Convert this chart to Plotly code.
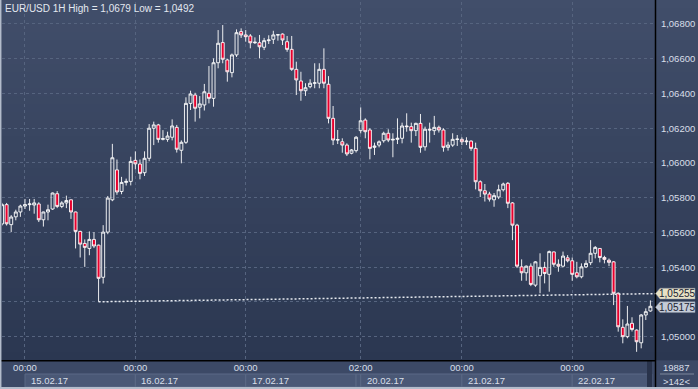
import plotly.graph_objects as go

# ---------------- data ----------------
opens = [1.05649,1.05760,1.05645,1.05690,1.05718,1.05752,1.05760,1.05758,1.05764,1.05673,
         1.05718,1.05735,1.05823,1.05750,1.05770,1.05788,1.05718,1.05606,1.05537,1.05508,
         1.05560,1.05527,1.05342,1.05602,1.05788,1.05960,1.05836,1.05888,1.05894,1.06015,
         1.05994,1.05944,1.06027,1.06200,1.06219,1.06136,1.06136,1.06148,1.06205,1.06073,
         1.06119,1.06343,1.06391,1.06321,1.06334,1.06401,1.06372,1.06577,1.06693,1.06593,
         1.06520,1.06622,1.06756,1.06737,1.06731,1.06692,1.06692,1.06666,1.06704,1.06712,
         1.06737,1.06742,1.06698,1.06654,1.06539,1.06472,1.06416,1.06439,1.06459,1.06459,
         1.06539,1.06453,1.06257,1.06132,1.06122,1.06103,1.06056,1.06071,1.06186,1.06247,
         1.06190,1.06090,1.06103,1.06128,1.06171,1.06132,1.06136,1.06142,1.06213,1.06209,
         1.06186,1.06228,1.06093,1.06194,1.06186,1.06205,1.06190,1.06090,1.06103,1.06136,
         1.06136,1.06122,1.06126,1.06084,1.05892,1.05840,1.05821,1.05788,1.05804,1.05846,
         1.05883,1.05770,1.05642,1.05402,1.05368,1.05406,1.05297,1.05351,1.05399,1.05359,
         1.05488,1.05417,1.05406,1.05454,1.05437,1.05368,1.05345,1.05402,1.05426,1.05480,
         1.05508,1.05456,1.05440,1.05431,1.05250,1.05054,1.05000,1.05077,1.05038,1.04965,
         1.05125,1.05148]
highs = [1.05770,1.05770,1.05700,1.05731,1.05760,1.05793,1.05793,1.05793,1.05774,1.05720,
         1.05760,1.05830,1.05838,1.05780,1.05812,1.05790,1.05720,1.05610,1.05560,1.05606,
         1.05602,1.05530,1.05642,1.05810,1.06110,1.06020,1.05920,1.05910,1.06036,1.06067,
         1.06020,1.06067,1.06224,1.06238,1.06225,1.06189,1.06180,1.06251,1.06219,1.06130,
         1.06378,1.06416,1.06404,1.06385,1.06455,1.06558,1.06602,1.06765,1.06794,1.06600,
         1.06630,1.06769,1.06775,1.06765,1.06742,1.06723,1.06737,1.06720,1.06735,1.06761,
         1.06740,1.06746,1.06731,1.06731,1.06583,1.06525,1.06459,1.06482,1.06574,1.06574,
         1.06660,1.06500,1.06328,1.06190,1.06142,1.06113,1.06080,1.06155,1.06320,1.06257,
         1.06200,1.06117,1.06130,1.06180,1.06194,1.06171,1.06257,1.06232,1.06286,1.06232,
         1.06232,1.06282,1.06209,1.06232,1.06271,1.06215,1.06200,1.06122,1.06171,1.06161,
         1.06148,1.06148,1.06130,1.06117,1.05900,1.05879,1.05834,1.05827,1.05875,1.05887,
         1.05890,1.05775,1.05650,1.05445,1.05410,1.05422,1.05435,1.05480,1.05431,1.05496,
         1.05490,1.05445,1.05490,1.05470,1.05456,1.05431,1.05422,1.05440,1.05556,1.05522,
         1.05510,1.05466,1.05450,1.05435,1.05255,1.05100,1.05177,1.05112,1.05042,1.05130,
         1.05163,1.05209]
lows = [1.05640,1.05640,1.05602,1.05670,1.05690,1.05735,1.05725,1.05708,1.05660,1.05634,
        1.05670,1.05730,1.05740,1.05740,1.05740,1.05678,1.05508,1.05456,1.05402,1.05469,
        1.05510,1.05201,1.05306,1.05590,1.05780,1.05817,1.05820,1.05870,1.05871,1.05963,
        1.05906,1.05925,1.06010,1.06103,1.06117,1.06130,1.06122,1.06130,1.06060,1.05998,
        1.06110,1.06305,1.06238,1.06257,1.06302,1.06343,1.06324,1.06545,1.06574,1.06468,
        1.06493,1.06610,1.06720,1.06698,1.06660,1.06685,1.06602,1.06650,1.06685,1.06685,
        1.06704,1.06679,1.06640,1.06530,1.06391,1.06358,1.06386,1.06430,1.06430,1.06430,
        1.06430,1.06228,1.06103,1.06109,1.06059,1.06040,1.06050,1.06060,1.06170,1.06142,
        1.06021,1.06046,1.06090,1.06117,1.06120,1.06033,1.06109,1.06113,1.06180,1.06117,
        1.06155,1.06059,1.06071,1.06117,1.06161,1.06175,1.06065,1.06071,1.06093,1.06098,
        1.06103,1.06103,1.06070,1.05848,1.05804,1.05778,1.05778,1.05748,1.05792,1.05836,
        1.05740,1.05556,1.05395,1.05322,1.05322,1.05291,1.05287,1.05250,1.05307,1.05259,
        1.05402,1.05374,1.05399,1.05428,1.05322,1.05336,1.05336,1.05395,1.05412,1.05451,
        1.05428,1.05422,1.05406,1.05182,1.05029,1.04962,1.04991,1.05030,1.04913,1.04933,
        1.05096,1.05144]
closes = [1.05760,1.05650,1.05689,1.05718,1.05752,1.05760,1.05764,1.05770,1.05673,1.05718,
          1.05731,1.05827,1.05750,1.05770,1.05784,1.05718,1.05606,1.05533,1.05514,1.05560,
          1.05522,1.05336,1.05602,1.05798,1.06030,1.05833,1.05888,1.05894,1.06009,1.05995,
          1.05940,1.06027,1.06200,1.06219,1.06136,1.06140,1.06155,1.06213,1.06079,1.06119,
          1.06343,1.06397,1.06315,1.06340,1.06410,1.06372,1.06577,1.06689,1.06597,1.06525,
          1.06622,1.06750,1.06737,1.06727,1.06692,1.06695,1.06669,1.06704,1.06708,1.06737,
          1.06738,1.06708,1.06654,1.06539,1.06478,1.06416,1.06433,1.06459,1.06461,1.06539,
          1.06459,1.06257,1.06132,1.06134,1.06103,1.06052,1.06075,1.06148,1.06243,1.06180,
          1.06084,1.06097,1.06122,1.06171,1.06132,1.06136,1.06142,1.06213,1.06209,1.06186,
          1.06228,1.06090,1.06194,1.06190,1.06205,1.06190,1.06090,1.06103,1.06136,1.06137,
          1.06122,1.06126,1.06084,1.05892,1.05840,1.05821,1.05792,1.05812,1.05846,1.05879,
          1.05768,1.05642,1.05406,1.05368,1.05406,1.05301,1.05431,1.05399,1.05364,1.05490,
          1.05417,1.05406,1.05464,1.05437,1.05359,1.05345,1.05402,1.05422,1.05480,1.05514,
          1.05456,1.05445,1.05428,1.05250,1.05057,1.05000,1.05073,1.05042,1.04971,1.05125,
          1.05144,1.05175]
bar_index = list(range(len(opens)))

x_tickvals = [5, 29, 53, 78, 100, 124]
x_ticktext = ["00:00", "00:00", "00:00", "02:00", "00:00", "00:00"]
day_starts = [5, 29, 53, 77, 78, 100, 124]
day_ends = [29, 53, 77, 78, 100, 124, 141.3]
day_labels = ["15.02.17", "16.02.17", "17.02.17", "", "20.02.17", "21.02.17", "22.02.17"]

y_tickvals = [1.050, 1.052, 1.054, 1.056, 1.058, 1.060, 1.062, 1.064, 1.066, 1.068]
y_ticktext = ["1,05000", "", "1,05400", "1,05600", "1,05800", "1,06000",
              "1,06200", "1,06400", "1,06600", "1,06800"]

trend_x = [21, 142]
trend_y = [1.05201, 1.05248]

label_texts = ["1,05255", "1,05175"]
label_values = [1.05248, 1.05170]
label_colors = ["#e7e1c4", "#c4cbd7"]

title_text = "EUR/USD 1H High = 1,0679 Low = 1,0492"
corner_top = "19887"
corner_bottom = ">142<"

# ---------------- layout geometry ----------------
W, H = 698, 389
ML, MR, MT, MB = 2, 43, 2, 29
PW, PH = W - ML - MR, H - MT - MB
XR = [0, 142]
YR = [1.048659, 1.069266]

def fx(px):
    return (px - ML) / PW

def fy(py):
    return (H - MB - py) / PH

def kpx(k):
    return ML + (k - XR[0]) / (XR[1] - XR[0]) * PW

def vfy(v):
    return (v - YR[0]) / (YR[1] - YR[0])

shapes = []
# vertical gradient background
top_c = (65, 78, 106)
bot_c = (43, 55, 81)
nb = 45
for i in range(nb):
    t = i / (nb - 1)
    c = tuple(round(top_c[j] + (bot_c[j] - top_c[j]) * t) for j in range(3))
    y0p = i * 360 / nb
    y1p = (i + 1) * 360 / nb + 0.6
    shapes.append(dict(type="rect", xref="paper", yref="paper",
                       x0=fx(0), x1=fx(W), y0=fy(min(y1p, 360.5)), y1=fy(y0p),
                       fillcolor="rgb(%d,%d,%d)" % c, line_width=0, layer="below"))
# bottom strip
shapes.append(dict(type="rect", xref="paper", yref="paper", x0=fx(0), x1=fx(W),
                   y0=fy(H), y1=fy(360.5), fillcolor="#3c4966", line_width=0, layer="below"))
# date boxes
for s, e in zip(day_starts, day_ends):
    shapes.append(dict(type="rect", xref="paper", yref="paper",
                       x0=fx(kpx(s)), x1=fx(kpx(e)), y0=fy(387), y1=fy(374),
                       fillcolor="#4a5876", line=dict(color="#5b6986", width=1), layer="below"))
# scroll slot
shapes.append(dict(type="rect", xref="paper", yref="paper", x0=fx(647), x1=fx(652),
                   y0=fy(387), y1=fy(361), fillcolor="#29334b", line_width=0, layer="below"))
# axis lines
shapes.append(dict(type="line", xref="paper", yref="paper", x0=fx(655.5), x1=fx(655.5),
                   y0=fy(H), y1=fy(0), line=dict(color="#000000", width=1.5), layer="above"))
shapes.append(dict(type="line", xref="paper", yref="paper", x0=fx(1), x1=fx(655.5),
                   y0=fy(360.7), y1=fy(360.7), line=dict(color="#000000", width=1.5), layer="above"))
# corner box separator
shapes.append(dict(type="line", xref="paper", yref="paper", x0=fx(660), x1=fx(694),
                   y0=fy(374), y1=fy(374), line=dict(color="#7d889c", width=1), layer="above"))
# outer border (left & bottom)
shapes.append(dict(type="line", xref="paper", yref="paper", x0=fx(0.7), x1=fx(0.7),
                   y0=fy(H), y1=fy(0), line=dict(color="#b3bccb", width=1.5), layer="above"))
shapes.append(dict(type="line", xref="paper", yref="paper", x0=fx(0), x1=fx(W),
                   y0=fy(388), y1=fy(388), line=dict(color="#b3bccb", width=2), layer="above"))

# price labels (pointer boxes)
annotations = []
for txt, val, col in zip(label_texts, label_values, label_colors):
    yc = vfy(val)
    hh = 5.4 / PH
    x_tip, x_l, x_r = fx(655.5), fx(660), fx(695)
    path = "M %f %f L %f %f L %f %f L %f %f L %f %f Z" % (
        x_tip, yc, x_l, yc + hh, x_r, yc + hh, x_r, yc - hh, x_l, yc - hh)
    shapes.append(dict(type="path", xref="paper", yref="paper", path=path,
                       fillcolor=col, line=dict(color="#8a93a3", width=0.5), layer="above"))
    annotations.append(dict(xref="paper", yref="paper", x=fx(677.5), y=yc, text=txt,
                            showarrow=False, xanchor="center", yanchor="middle",
                            font=dict(family="Liberation Sans", size=10, color="#1a2232")))

font_main = dict(family="Liberation Sans", size=9.5, color="#d9dfe9")

# title
annotations.append(dict(xref="paper", yref="paper", x=fx(3), y=fy(8), text=title_text,
                        showarrow=False, xanchor="left", yanchor="middle",
                        font=dict(family="Liberation Sans", size=10, color="#e3e8f0")))
# date labels
for s, lab in zip(day_starts, day_labels):
    if lab:
        annotations.append(dict(xref="paper", yref="paper", x=fx(kpx(s) + 4), y=fy(380.5),
                                text=lab, showarrow=False, xanchor="left", yanchor="middle",
                                font=font_main))
# corner box
annotations.append(dict(xref="paper", yref="paper", x=fx(676), y=fy(367), text=corner_top,
                        showarrow=False, xanchor="center", yanchor="middle", font=font_main))
annotations.append(dict(xref="paper", yref="paper", x=fx(676), y=fy(381), text=corner_bottom,
                        showarrow=False, xanchor="center", yanchor="middle", font=font_main))

fig = go.Figure()
fig.add_trace(go.Candlestick(
    x=bar_index, open=opens, high=highs, low=lows, close=closes,
    increasing=dict(line=dict(color="#ffffff", width=0.9), fillcolor="rgba(0,0,0,0)"),
    decreasing=dict(line=dict(color="#ffffff", width=0.9), fillcolor="#e8002d"),
    whiskerwidth=0, hoverinfo="skip", showlegend=False))
fig.add_trace(go.Scatter(
    x=trend_x, y=trend_y, mode="lines",
    line=dict(color="#e6e9ef", width=1.5, dash="2px,2px"),
    hoverinfo="skip", showlegend=False))

fig.update_layout(
    width=W, height=H,
    margin=dict(l=ML, r=MR, t=MT, b=MB, pad=0),
    paper_bgcolor="#36425e", plot_bgcolor="rgba(0,0,0,0)",
    showlegend=False, shapes=shapes, annotations=annotations, boxgap=0.08,
    xaxis=dict(range=XR, rangeslider=dict(visible=False), tickvals=x_tickvals,
               ticktext=x_ticktext, showgrid=True, gridcolor="#56647f", gridwidth=1,
               griddash="3px,3px", zeroline=False, showline=False, ticks="",
               tickfont=font_main, fixedrange=True),
    yaxis=dict(range=YR, side="right", tickvals=y_tickvals, ticktext=y_ticktext,
               showgrid=True, gridcolor="#56647f", gridwidth=1, griddash="3px,3px",
               zeroline=False, showline=False, ticks="outside", ticklen=3,
               tickcolor="rgba(0,0,0,0)", tickfont=font_main, fixedrange=True),
)

fig.write_html("out.html", config={"displayModeBar": False},
               post_script="document.body.style.margin='0';document.body.style.overflow='hidden';")
